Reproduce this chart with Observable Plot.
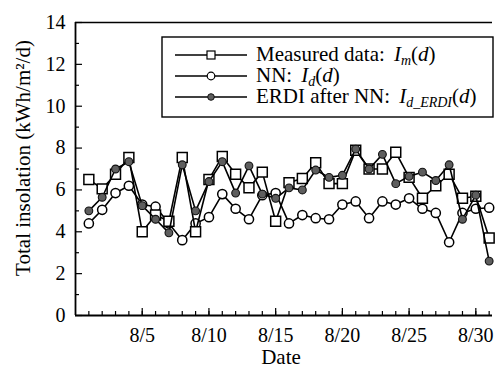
<!DOCTYPE html>
<html>
<head>
<meta charset="utf-8">
<script src="https://cdn.jsdelivr.net/npm/d3@7"></script>
<script src="https://cdn.jsdelivr.net/npm/@observablehq/plot@0.6"></script>
<style>
  body { margin: 0; background: #fff; }
  #chart { width: 499px; height: 370px; }
  #chart svg text { font-family: "Liberation Serif", "Times New Roman", serif; }
</style>
</head>
<body>
<div id="chart"></div>
<script>
// Daily total insolation for August, kWh/m²/d
const days = d3.range(1, 32);
const measured = [6.5, 6.05, 6.75, 7.55, 4.0, 4.8, 4.5, 7.55, 4.0, 6.5, 7.6, 6.75, 6.1, 6.85, 4.5, 6.35,
                  6.55, 7.3, 6.3, 6.3, 7.9, 7.0, 7.0, 7.8, 6.6, 5.6, 6.2, 6.75, 5.6, 5.7, 3.7];
const nn = [4.4, 5.05, 5.85, 6.2, 5.3, 5.2, 4.4, 3.6, 4.4, 4.7, 5.8, 5.1, 4.6, 5.75, 5.85, 4.4,
            4.8, 4.65, 4.6, 5.3, 5.45, 4.65, 5.45, 5.3, 5.6, 5.1, 4.9, 3.5, 4.9, 5.1, 5.15];
const erdi = [5.0, 5.65, 7.0, 7.35, 5.25, 4.6, 3.95, 7.2, 5.0, 6.4, 7.35, 5.85, 7.15, 5.8, 5.6, 6.1,
              6.0, 6.95, 6.6, 6.7, 7.95, 7.0, 7.7, 6.3, 6.65, 6.85, 6.45, 7.2, 4.6, 5.75, 2.6];

const dateTicks = [5, 10, 15, 20, 25, 30];
const yTicks = [0, 2, 4, 6, 8, 10, 12, 14];
const yMinor = [1, 3, 5, 7, 9, 11, 13];
const yLabel = "Total insolation (kWh/m²/d)";
const xLabel = "Date";

const rows = days.map((d, i) => ({day: d, measured: measured[i], nn: nn[i], erdi: erdi[i]}));

const W = 499, H = 370, ML = 75, MR = 7, MT = 22, MB = 55;
const frameW = W - ML - MR, frameH = H - MT - MB;
const grayFill = "#5e5e5e";

const chart = Plot.plot({
  width: W, height: H,
  marginLeft: ML, marginRight: MR, marginTop: MT, marginBottom: MB,
  style: {background: "white", color: "black", fontFamily: "Liberation Serif, serif"},
  x: {domain: [0, 31.25], axis: null},
  y: {domain: [0, 14], axis: null},
  marks: [
    // inward ticks
    Plot.tickX(days, {x: d => d, insetTop: frameH - 4, stroke: "black", strokeWidth: 1.2}),
    Plot.tickX(dateTicks, {x: d => d, insetTop: frameH - 7, stroke: "black", strokeWidth: 1.2}),
    Plot.tickY(yMinor, {y: d => d, insetRight: frameW - 4, stroke: "black", strokeWidth: 1.2}),
    Plot.tickY(yTicks, {y: d => d, insetRight: frameW - 7, stroke: "black", strokeWidth: 1.2}),
    Plot.axisX(dateTicks, {tickSize: 0, tickPadding: 12, tickFormat: d => `8/${d}`, fontSize: 20, label: null}),
    Plot.axisY(yTicks, {tickSize: 0, tickPadding: 10, fontSize: 20, label: null}),
    // axis lines
    Plot.ruleX([0], {stroke: "black", strokeWidth: 1.8}),
    Plot.ruleY([0], {stroke: "black", strokeWidth: 1.8}),
    Plot.ruleY([14], {stroke: "black", strokeWidth: 1.3}),
    // NN
    Plot.line(rows, {x: "day", y: "nn", stroke: "black", strokeWidth: 1.6}),
    Plot.dot(rows, {x: "day", y: "nn", r: 4.6, fill: "white", stroke: "black", strokeWidth: 1.5}),
    // measured
    Plot.line(rows, {x: "day", y: "measured", stroke: "black", strokeWidth: 1.6}),
    Plot.dot(rows, {x: "day", y: "measured", symbol: "square", r: 5.6, fill: "white", stroke: "black", strokeWidth: 1.5}),
    // ERDI after NN
    Plot.line(rows, {x: "day", y: "erdi", stroke: "black", strokeWidth: 1.6}),
    Plot.dot(rows, {x: "day", y: "erdi", r: 3.9, fill: grayFill, stroke: "#111", strokeWidth: 1.1}),
    // axis titles
    Plot.text([xLabel], {frameAnchor: "bottom", textAnchor: "middle", lineAnchor: "middle",
                         dx: -3, dy: 42, fontSize: 21, fill: "black"}),
    Plot.text([yLabel], {frameAnchor: "left", textAnchor: "middle", lineAnchor: "middle",
                         rotate: -90, dx: -52, dy: -11, fontSize: 21, fill: "black"})
  ]
});

document.getElementById("chart").appendChild(chart);

// Legend box
const svg = d3.select(chart);
const lg = svg.append("g").attr("class", "legend").attr("text-anchor", "start");
lg.append("rect")
  .attr("x", 162).attr("y", 37).attr("width", 331).attr("height", 80)
  .attr("fill", "white").attr("stroke", "black").attr("stroke-width", 1.4);

const legendRows = [
  {y: 55, kind: "square", name: "Measured data:", sub: "m"},
  {y: 76, kind: "open", name: "NN:", sub: "d"},
  {y: 97, kind: "filled", name: "ERDI after NN:", sub: "d_ERDI"}
];

legendRows.forEach(r => {
  lg.append("line").attr("x1", 175).attr("x2", 247).attr("y1", r.y).attr("y2", r.y)
    .attr("stroke", "black").attr("stroke-width", 1.3);
  if (r.kind === "square") {
    lg.append("rect").attr("x", 207).attr("y", r.y - 4).attr("width", 8).attr("height", 8)
      .attr("fill", "white").attr("stroke", "black").attr("stroke-width", 1.2);
  } else if (r.kind === "open") {
    lg.append("circle").attr("cx", 211).attr("cy", r.y).attr("r", 3.8)
      .attr("fill", "white").attr("stroke", "black").attr("stroke-width", 1.2);
  } else {
    lg.append("circle").attr("cx", 211).attr("cy", r.y).attr("r", 3.3)
      .attr("fill", grayFill).attr("stroke", "#111").attr("stroke-width", 1);
  }
  const t = lg.append("text").attr("x", 256).attr("y", r.y + 6)
    .attr("font-size", 21).attr("fill", "black").attr("text-anchor", "start");
  t.append("tspan").text(r.name);
  t.append("tspan").attr("dx", 9).attr("font-style", "italic").text("I");
  if (r.sub === "d_ERDI") {
    t.append("tspan").attr("dy", 4).attr("font-size", 14).attr("font-style", "italic").text("d");
    t.append("tspan").attr("font-size", 14).text("_");
    t.append("tspan").attr("font-size", 14).attr("font-style", "italic").text("ERDI");
  } else {
    t.append("tspan").attr("dy", 4).attr("font-size", 14).attr("font-style", "italic").text(r.sub);
  }
  t.append("tspan").attr("dy", -4).text("(");
  t.append("tspan").attr("font-style", "italic").text("d");
  t.append("tspan").text(")");
});
</script>
</body>
</html>
